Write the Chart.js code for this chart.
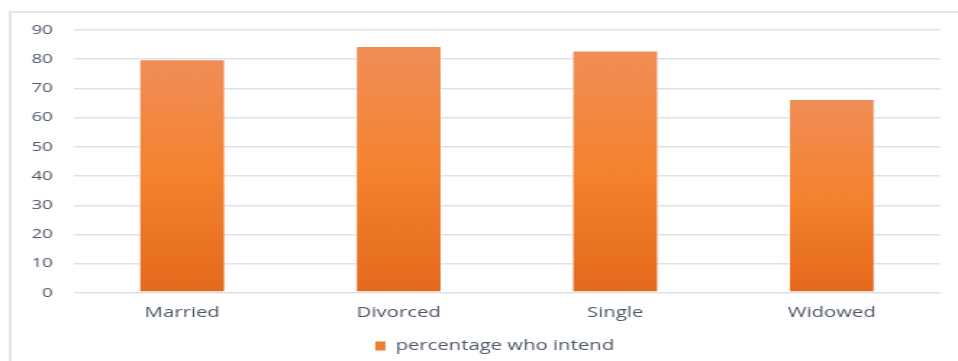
<!DOCTYPE html>
<html>
<head>
<meta charset="utf-8">
<script src="https://cdn.jsdelivr.net/npm/chart.js@4"></script>
<style>
  html, body { margin: 0; padding: 0; background: #fff; overflow: hidden; }
  #wrap { width: 661px; height: 361px; transform: scaleX(1.4493); transform-origin: 0 0; }
</style>
</head>
<body>
<div id="wrap"><canvas id="chart" width="661" height="361"></canvas></div>
<script>
// Data
const categories = ['Married', 'Divorced', 'Single', 'Widowed'];
const seriesName = 'percentage who intend';
const seriesValues = [80, 84.5, 83, 66.4];
const yMin = 0;
const yMax = 90;
const yStep = 10;

const TEXT = '#4e5868';
const GRID = '#dde1e8';

// Gradient for each bar, lighter at its own top
const barFill = (context) => {
    const chart = context.chart;
    const area = chart.chartArea;
    if (!area || context.raw === undefined) return '#f07f36';
    const top = chart.scales.y.getPixelForValue(context.raw);
    const g = chart.ctx.createLinearGradient(0, top, 0, area.bottom);
    g.addColorStop(0, '#f08e57');
    g.addColorStop(0.5, '#f4822f');
    g.addColorStop(1, '#e4691c');
    return g;
};

// Outer frame of the chart box (runs off the right and bottom edge)
const framePlugin = {
    id: 'frame',
    beforeDraw(chart) {
        const ctx = chart.ctx;
        ctx.save();
        ctx.fillStyle = '#fff';
        ctx.fillRect(0, 0, chart.width, chart.height);
        ctx.strokeStyle = '#dadee5';
        ctx.lineWidth = 1.5;
        ctx.strokeRect(7, 12, chart.width + 20, chart.height + 20);
        ctx.restore();
    }
};

// Legend sits a little right of the canvas middle
const legendShift = {
    id: 'legendShift',
    afterLayout(chart) {
        const l = chart.legend;
        if (!l) return;
        l.left = 34;
        l.width = l.right - l.left;
    }
};

new Chart(document.getElementById('chart'), {
    type: 'bar',
    data: {
        labels: categories,
        datasets: [{
            label: seriesName,
            data: seriesValues,
            backgroundColor: barFill,
            borderColor: 'rgba(255, 255, 255, 0.55)',
            borderWidth: 1,
            borderSkipped: false,
            categoryPercentage: 1,
            barPercentage: 0.4
        }]
    },
    options: {
        responsive: false,
        animation: false,
        devicePixelRatio: 1,
        layout: { padding: { top: 30, left: 0, right: 12.4, bottom: -2 } },
        scales: {
            x: {
                grid: { display: false, drawTicks: false },
                border: { display: false },
                ticks: { color: TEXT, padding: 12, font: { family: 'Open Sans', size: 14 } },
                afterFit: (scale) => { scale.height = 41; }
            },
            y: {
                min: yMin,
                max: yMax,
                grid: { color: GRID, lineWidth: 1.5, drawTicks: false },
                border: { display: false },
                ticks: { stepSize: yStep, color: TEXT, padding: 14.5, font: { family: 'Open Sans', size: 13 } },
                afterFit: (scale) => { scale.width = 51; }
            }
        },
        plugins: {
            legend: {
                position: 'bottom',
                labels: {
                    color: TEXT,
                    boxWidth: 7,
                    boxHeight: 9,
                    padding: 5,
                    font: { family: 'Open Sans', size: 14 },
                    generateLabels: (chart) => [{
                        text: seriesName,
                        fillStyle: '#ed7d31',
                        strokeStyle: '#ed7d31',
                        lineWidth: 0,
                        fontColor: TEXT,
                        datasetIndex: 0
                    }]
                }
            },
            tooltip: { enabled: false }
        }
    },
    plugins: [framePlugin, legendShift]
});
</script>
</body>
</html>
